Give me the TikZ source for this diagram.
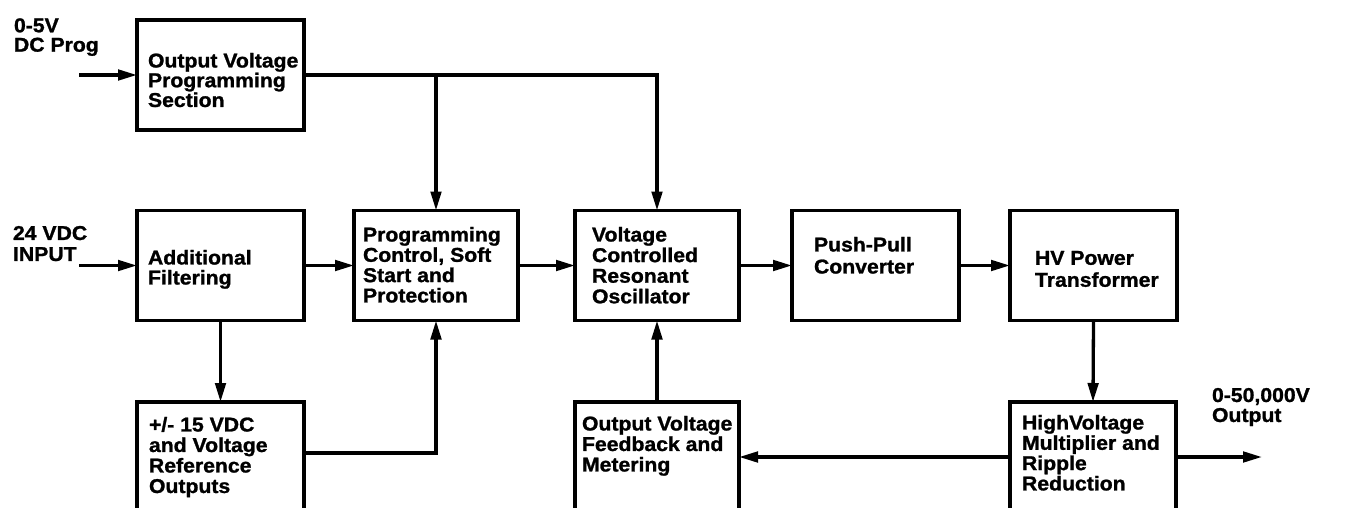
\documentclass[tikz,border=0pt]{standalone}
\usepackage{fontspec}
\newfontfamily\cadfont{Liberation Sans}[FakeStretch=1.06,FakeBold=1.2]
\usetikzlibrary{arrows.meta}
\newcommand{\cadtext}[1]{\cadfont\bfseries\fontsize{20}{#1}\selectfont}
\tikzset{
  blk/.style={draw, line width=3.3pt, minimum width=167pt, minimum height=110pt, inner sep=0pt, outer sep=0pt},
  wire/.style={line width=3.3pt},
  arr/.style={wire, -{Triangle[length=19pt,width=10.5pt]}},
  lbl/.style={anchor=north west, inner sep=0pt, outer sep=0pt, align=left},
}
\begin{document}
\begin{tikzpicture}[x=1pt,y=-1pt]
\useasboundingbox (0,0) rectangle (1346,508);
\fill[white] (0,0) rectangle (1346,508);
% blocks
\node[blk] (ovps) at (220.5,75) {};
\node[blk] (af) at (220.5,265.5) {};
\node[blk, minimum width=164pt] (pc) at (436,265.5) {};
\node[blk, minimum width=164pt] (vcro) at (657,265.5) {};
\node[blk] (pp) at (875.5,265.5) {};
\node[blk] (hvt) at (1093.5,265.5) {};
\node[blk] (pm) at (220.5,457) {};
\node[blk, minimum width=164pt] (fb) at (657,457) {};
\node[blk, minimum width=166pt] (hvm) at (1093,457) {};
% block texts
\node[lbl, font=\cadtext{17.5}] (tovps) at (148,53) {Output Voltage\\Programming\\Section};
\node[lbl, font=\cadtext{20}] (taf) at (148,250) {Additional\\Filtering};
\node[lbl, font=\cadtext{20.3}] (tpc) at (363,227) {Programming\\Control, Soft\\Start and\\Protection};
\node[lbl, font=\cadtext{20.6}] (tvcro) at (592,227) {Voltage\\Controlled\\Resonant\\Oscillator};
\node[lbl, font=\cadtext{22}] (tpp) at (814,237) {Push-Pull\\Converter};
\node[lbl, font=\cadtext{22}] (thvt) at (1035,251) {HV Power\\Transformer};
\node[lbl, font=\cadtext{20.5}] (tpm) at (149,417) {+/- 15 VDC\\and Voltage\\Reference\\Outputs};
\node[lbl, font=\cadtext{20.5}] (tfb) at (582,416) {Output Voltage\\Feedback and\\Metering};
\node[lbl, font=\cadtext{20.3}] (thvm) at (1022,415) {HighVoltage\\Multiplier and\\Ripple\\Reduction};
% outer labels
\node[lbl, font=\cadtext{19.4}] (l05) at (14,18.3) {0-5V\\DC Prog};
\node[lbl, font=\cadtext{21}] (l24) at (13,226) {24 VDC\\INPUT};
\node[lbl, font=\cadtext{20}] (lout) at (1212,388) {0-50,000V\\Output};
% free ends
\coordinate (in1) at (79,75);
\coordinate (in2) at (79,265.5);
\coordinate (out) at (1262,457);
% connectors
\draw[arr] (in1) -- (ovps.west);
\draw[arr] (ovps.east) -| (vcro.north);
\draw[arr] (ovps.east -| pc.north) -- (pc.north);
\draw[arr] (in2) -- (af.west);
\draw[arr] (af.east) -- (pc.west);
\draw[arr] (pc.east) -- (vcro.west);
\draw[arr] (vcro.east) -- (pp.west);
\draw[arr] (pp.east) -- (hvt.west);
\draw[arr] (hvt.south) -- (hvm.north);
\draw[arr] (af.south) -- (pm.north);
\draw[arr] ([yshift=4pt]pm.east) -| (pc.south);
\draw[arr] (fb.north) -- (vcro.south);
\draw[arr] (hvm.west) -- (fb.east);
\draw[arr] (hvm.east) -- (out);
\end{tikzpicture}
\end{document}
